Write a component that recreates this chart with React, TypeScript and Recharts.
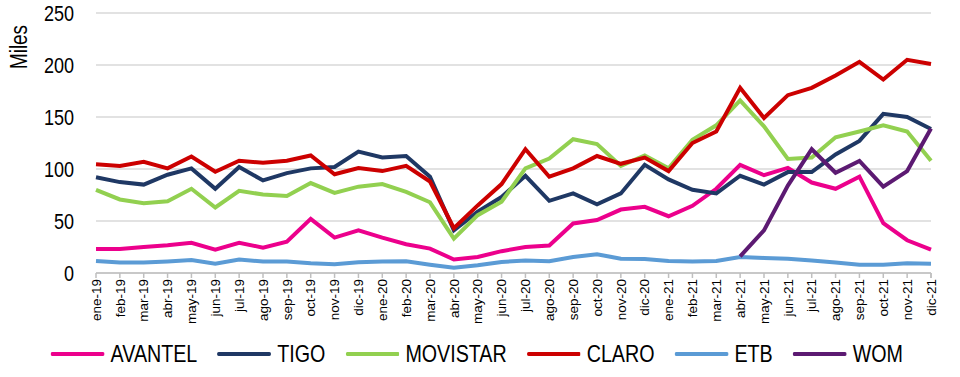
import { LineChart, Line, XAxis, YAxis, CartesianGrid, Legend } from "recharts";

document.body.style.margin = "0";

const months = [
  "ene-19", "feb-19", "mar-19", "abr-19", "may-19", "jun-19", "jul-19", "ago-19", "sep-19", "oct-19", "nov-19", "dic-19",
  "ene-20", "feb-20", "mar-20", "abr-20", "may-20", "jun-20", "jul-20", "ago-20", "sep-20", "oct-20", "nov-20", "dic-20",
  "ene-21", "feb-21", "mar-21", "abr-21", "may-21", "jun-21", "jul-21", "ago-21", "sep-21", "oct-21", "nov-21", "dic-21",
];

const avantel = [23, 23, 25, 26.7, 29, 22.5, 29, 24.4, 30, 52, 34, 41, 34, 27.6, 23.5, 13, 15.4, 21, 25, 26.4, 47.6, 51, 61, 63.6, 54.6, 64.6, 81, 104, 94, 101, 87, 81, 92.6, 48, 31.5, 22.5];
const tigo = [92, 87.4, 85, 94.5, 100.6, 81, 102, 89, 96, 100.6, 102, 116.7, 111, 112.5, 92.6, 41, 59, 73, 93.5, 69.4, 76.5, 66, 76.5, 104, 90, 80, 76.5, 93.5, 85, 97, 97, 114, 127, 153, 150, 138.5];
const movistar = [80, 70.7, 67, 69, 81, 63, 79, 75.5, 74, 86.5, 77, 83, 85.5, 78, 68, 33, 55.6, 68.5, 100.6, 110, 128.6, 124, 103, 113, 100.6, 128, 142, 166, 141, 109.6, 111, 130.5, 136, 142, 136, 108];
const claro = [104.5, 103, 107, 100.6, 112, 97.4, 108, 106, 108, 113, 95, 101, 98, 103, 88, 43, 65, 85.5, 119, 92.6, 100.6, 112.5, 105, 111, 98, 125, 136, 178, 149, 171, 178, 190, 203, 186, 205, 201];
const etb = [11.6, 10, 10, 11, 12.5, 9, 13, 11, 11, 9.3, 8.4, 10.3, 11, 11.3, 8, 5, 7.4, 10.6, 12, 11.3, 15.4, 18, 13.8, 13.5, 11.6, 11, 11.6, 15.4, 14.5, 13.8, 12, 10, 8, 8, 9.3, 9];
const wom = [null, null, null, null, null, null, null, null, null, null, null, null, null, null, null, null, null, null, null, null, null, null, null, null, null, null, null, 16, 41, 84, 119, 96.4, 107.7, 83, 98, 139];

const yTicks = [0, 50, 100, 150, 200, 250];

const series = [
  { key: "AVANTEL", values: avantel, color: "#EC008C" },
  { key: "TIGO", values: tigo, color: "#1F3864" },
  { key: "MOVISTAR", values: movistar, color: "#92D050" },
  { key: "CLARO", values: claro, color: "#CC0000" },
  { key: "ETB", values: etb, color: "#5B9BD5" },
  { key: "WOM", values: wom, color: "#5C1A72" },
];

const data = months.map((m, i) => {
  const row: Record<string, string | number | null> = { month: m };
  series.forEach((s) => {
    row[s.key] = s.values[i];
  });
  return row;
});

// no narrow font installed, so squeeze Liberation Sans like Arial Narrow
const font = '"Liberation Sans", Arial, sans-serif';
const NARROW = 0.82;
const TICK_GAP = 6;

function MonthTick(props: any) {
  const { x, y, payload, index, visibleTicksCount, width } = props;
  const half = payload.offset ?? width / visibleTicksCount / 2;
  const axisY = y - TICK_GAP;
  const last = index === visibleTicksCount - 1;
  return (
    <g>
      <line x1={x - half} x2={x - half} y1={axisY} y2={axisY + 5} stroke="#bfbfbf" strokeWidth={1.5} />
      {last && <line x1={x + half} x2={x + half} y1={axisY} y2={axisY + 5} stroke="#bfbfbf" strokeWidth={1.5} />}
      <text
        x={x}
        y={y}
        transform={`rotate(-90, ${x}, ${y})`}
        textAnchor="end"
        dy="0.35em"
        fontSize={13.5}
        fontFamily={font}
        fill="#000"
      >
        {payload.value}
      </text>
    </g>
  );
}

function ValueTick(props: any) {
  const { x, y, payload } = props;
  return (
    <g transform={`translate(${x}, ${y})`}>
      <text transform={`scale(${NARROW}, 1)`} textAnchor="end" dy="0.35em" fontSize={22} fontFamily={font} fill="#000">
        {payload.value}
      </text>
    </g>
  );
}

function LegendContent() {
  return (
    <div style={{ height: 47, display: "flex", justifyContent: "center", alignItems: "center" }}>
      <div
        style={{
          display: "flex",
          alignItems: "center",
          transform: `scaleX(${NARROW})`,
          transformOrigin: "center",
          marginLeft: 22,
          fontFamily: font,
          fontSize: 24,
          color: "#000",
          whiteSpace: "nowrap",
        }}
      >
        {series.map((s, i) => (
          <div key={s.key} style={{ display: "flex", alignItems: "center", marginLeft: i === 0 ? 0 : 20 / NARROW }}>
            <svg width={54 / NARROW} height={6} style={{ marginRight: 6 / NARROW }}>
              <line x1={2} y1={3} x2={54 / NARROW - 2} y2={3} stroke={s.color} strokeWidth={4} strokeLinecap="round" />
            </svg>
            <span>{s.key}</span>
          </div>
        ))}
      </div>
    </div>
  );
}

export default function App() {
  return (
    <LineChart width={960} height={377} data={data} margin={{ top: 13, right: 29, bottom: 0, left: 0 }}>
      <CartesianGrid horizontal vertical={false} stroke="#d9d9d9" strokeWidth={1.5} />
      <XAxis
        dataKey="month"
        interval={0}
        height={57}
        tick={<MonthTick />}
        tickLine={false}
        tickSize={0}
        tickMargin={TICK_GAP}
        axisLine={{ stroke: "#bfbfbf", strokeWidth: 1.5 }}
      />
      <YAxis
        domain={[0, 250]}
        ticks={yTicks}
        width={96}
        axisLine={false}
        tickLine={false}
        tickSize={0}
        tickMargin={22}
        tick={<ValueTick />}
        label={() => (
          <g transform="translate(27, 47) rotate(-90)">
            <text transform={`scale(${NARROW}, 1)`} textAnchor="middle" fontSize={23} fontFamily={font} fill="#000">
              Miles
            </text>
          </g>
        )}
      />
      <Legend verticalAlign="bottom" height={47} content={<LegendContent />} />
      {series.map((s) => (
        <Line
          key={s.key}
          dataKey={s.key}
          stroke={s.color}
          strokeWidth={4}
          dot={false}
          activeDot={false}
          isAnimationActive={false}
          connectNulls={false}
        />
      ))}
    </LineChart>
  );
}
